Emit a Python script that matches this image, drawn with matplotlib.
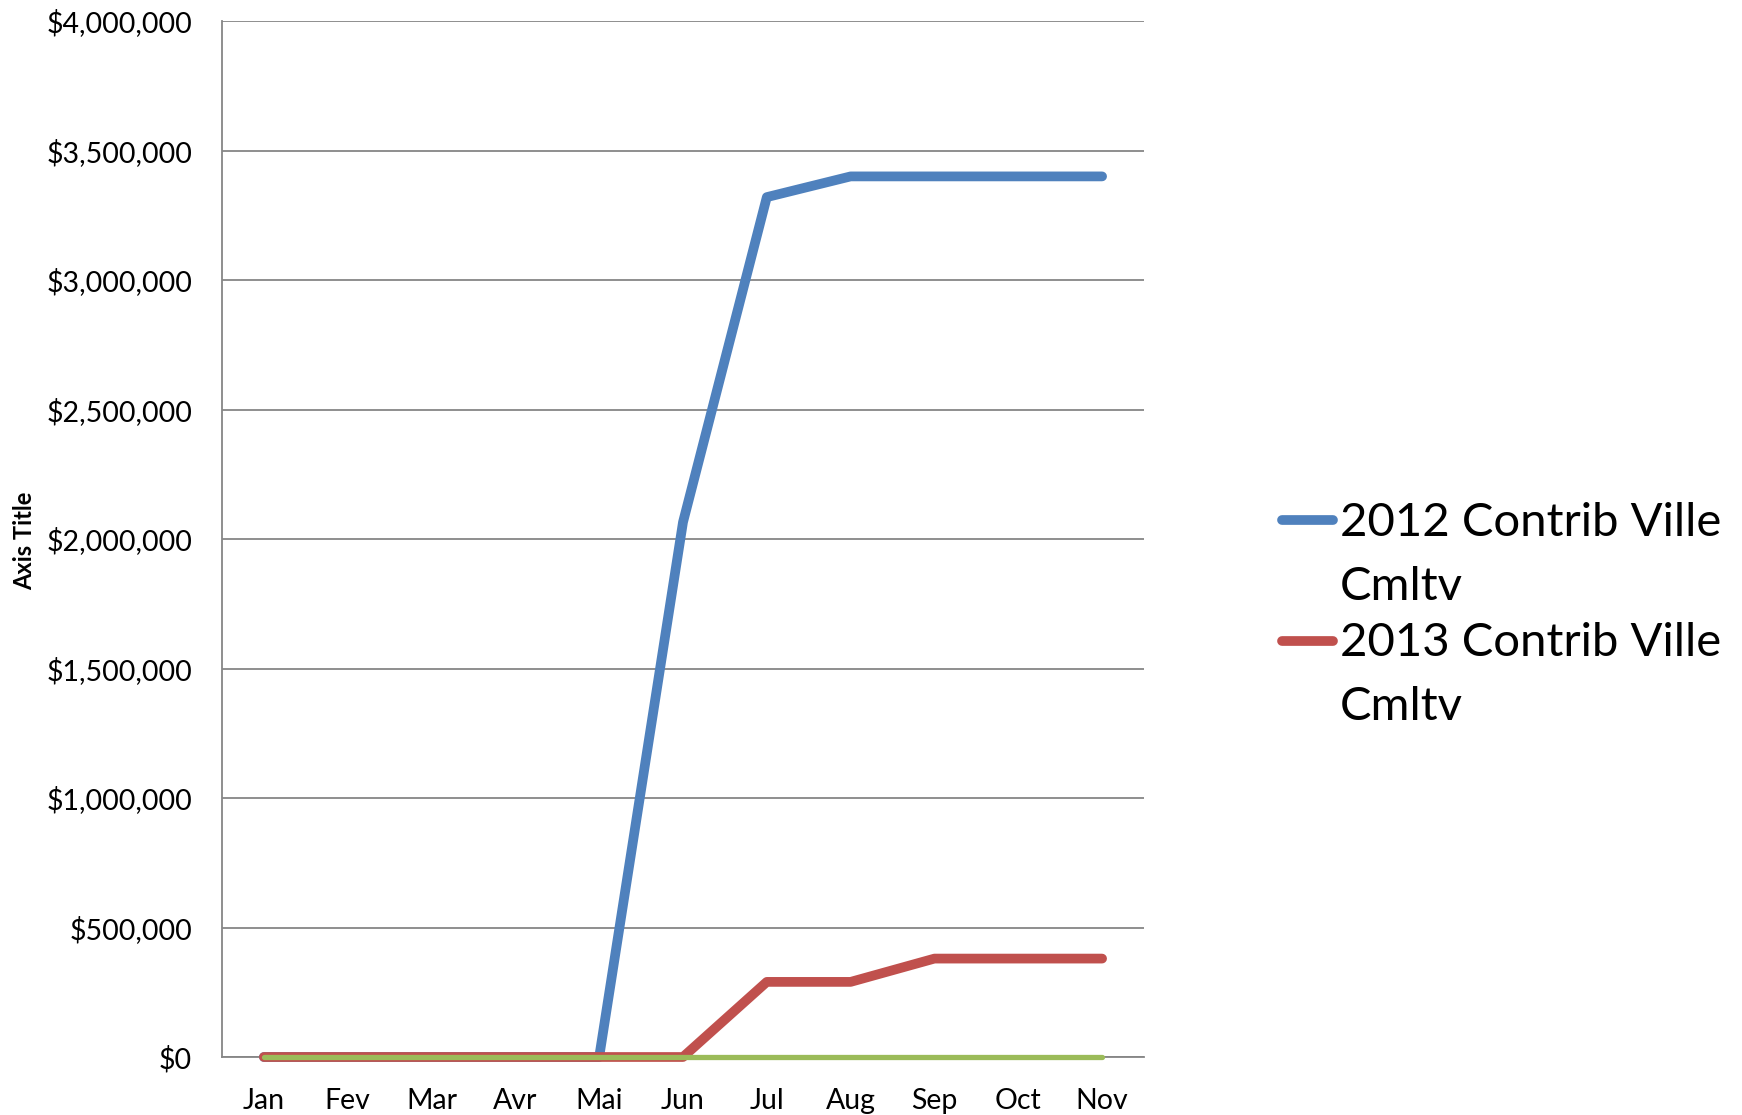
import matplotlib
matplotlib.use("Agg")
import matplotlib.pyplot as plt
from matplotlib.lines import Line2D
from matplotlib.ticker import FuncFormatter

months = ["Jan", "Fev", "Mar", "Avr", "Mai", "Jun", "Jul", "Aug", "Sep", "Oct", "Nov"]
contrib_2012 = [0, 0, 0, 0, 0, 2065000, 3320000, 3400000, 3400000, 3400000, 3400000]
contrib_2013 = [0, 0, 0, 0, 0, 0, 290000, 290000, 380000, 380000, 380000]
contrib_2014 = [0, 0, 0, 0, 0, 0, 0, 0, 0, 0, 0]
y_ticks = [0, 500000, 1000000, 1500000, 2000000, 2500000, 3000000, 3500000, 4000000]
legend_labels = ["2012 Contrib Ville\nCmltv", "2013 Contrib Ville\nCmltv"]

BLUE = "#4F81BD"
RED = "#C0504D"
GREEN = "#9BBB59"
GRID = "#868686"

plt.rcParams["font.family"] = ["Lato", "DejaVu Sans"]

fig = plt.figure(figsize=(17.42, 11.15), dpi=100)
ax = fig.add_axes([222 / 1742, 1 - 1057 / 1115, (1144 - 222) / 1742, (1057 - 21) / 1115])

x = list(range(len(months)))
ax.plot(x, contrib_2012, color=BLUE, lw=7, solid_capstyle="round", solid_joinstyle="round",
        zorder=3, clip_on=False)
ax.plot(x, contrib_2013, color=RED, lw=7, solid_capstyle="round", solid_joinstyle="round",
        zorder=4, clip_on=False)
ax.plot(x, contrib_2014, color=GREEN, lw=3.8, solid_capstyle="round", zorder=5, clip_on=False)

ax.set_xlim(-0.5, len(months) - 0.5)
ax.set_ylim(y_ticks[0], y_ticks[-1])
ax.set_yticks(y_ticks)
ax.yaxis.set_major_formatter(FuncFormatter(lambda v, p: "${:,.0f}".format(v)))
ax.set_xticks(x)
ax.set_xticklabels(months)
ax.tick_params(axis="both", length=0, labelsize=20.5, colors="black")
ax.tick_params(axis="y", pad=21.5)
ax.tick_params(axis="x", pad=22)
ax.grid(axis="y", color=GRID, lw=1.3, zorder=1)
ax.set_axisbelow(True)
for s in ["top", "right"]:
    ax.spines[s].set_visible(False)
for s in ["left", "bottom"]:
    ax.spines[s].set_color(GRID)
    ax.spines[s].set_linewidth(1.3)

fig.text(25 / 1742, 1 - 541 / 1115, "Axis Title", rotation=90, fontsize=17,
         fontweight="bold", ha="center", va="center")

# legend
colors = [BLUE, RED]
handle_y = [520, 641]
last_base_y = [600, 720]
for c, hy, by, lab in zip(colors, handle_y, last_base_y, legend_labels):
    fig.add_artist(Line2D([1282 / 1742, 1333 / 1742], [1 - hy / 1115, 1 - hy / 1115],
                          color=c, lw=7, solid_capstyle="round", transform=fig.transFigure))
    fig.text(1340 / 1742, 1 - by / 1115, lab, fontsize=34, ha="left", va="baseline",
             linespacing=1.64)

fig.savefig("out.png", dpi=100)
